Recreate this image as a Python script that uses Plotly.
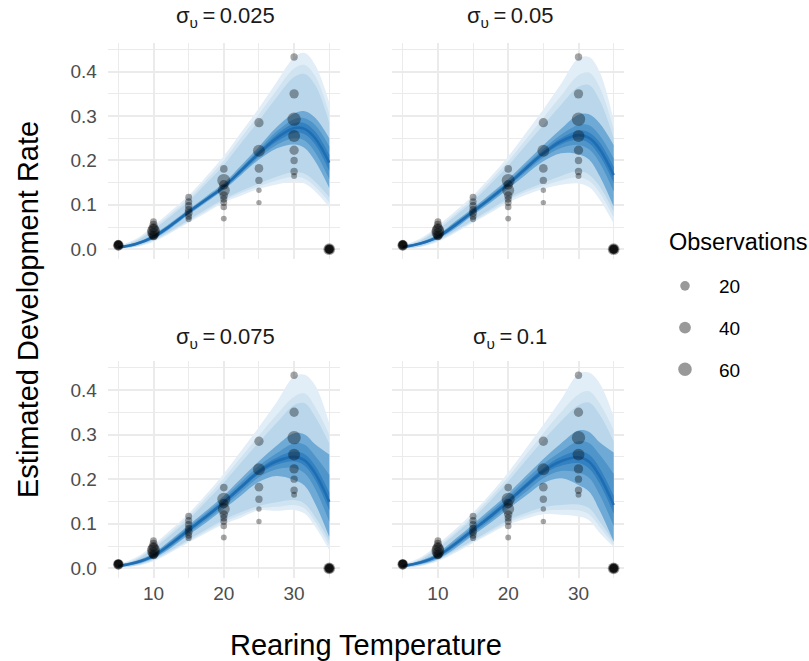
import math
import plotly.graph_objects as go

# ---------------- data ----------------
X_GRID = [5, 7.5, 10, 12.5, 15, 17.5, 20, 22.5, 25, 27.5, 30, 31.5, 33, 35]

PANEL_TITLES = ["σ<sub>υ</sub>\u2009=\u20090.025", "σ<sub>υ</sub>\u2009=\u20090.05",
                "σ<sub>υ</sub>\u2009=\u20090.075", "σ<sub>υ</sub>\u2009=\u20090.1"]

# panel 1 : sigma = 0.025
p1_med   = [0.004, 0.012, 0.028, 0.054, 0.084, 0.112, 0.141, 0.178, 0.216, 0.250, 0.273, 0.271, 0.250, 0.195]
p1_m3_lo = [0.0035, 0.011, 0.026, 0.052, 0.082, 0.110, 0.139, 0.175, 0.211, 0.242, 0.262, 0.259, 0.236, 0.177]
p1_m3_hi = [0.0045, 0.013, 0.030, 0.056, 0.086, 0.114, 0.143, 0.181, 0.221, 0.258, 0.284, 0.284, 0.265, 0.213]
p1_m2_lo = [0.003, 0.010, 0.025, 0.050, 0.080, 0.108, 0.137, 0.172, 0.207, 0.235, 0.250, 0.245, 0.218, 0.158]
p1_m2_hi = [0.005, 0.014, 0.031, 0.058, 0.088, 0.116, 0.145, 0.184, 0.225, 0.265, 0.293, 0.295, 0.280, 0.232]
p1_m1_lo = [0.0025, 0.009, 0.023, 0.048, 0.078, 0.106, 0.134, 0.168, 0.202, 0.227, 0.236, 0.228, 0.198, 0.138]
p1_m1_hi = [0.0055, 0.015, 0.033, 0.060, 0.090, 0.119, 0.149, 0.189, 0.231, 0.275, 0.306, 0.311, 0.296, 0.250]
p1_l3_lo = [0.002, 0.007, 0.021, 0.042, 0.066, 0.090, 0.113, 0.132, 0.148, 0.163, 0.174, 0.170, 0.152, 0.117]
p1_l3_hi = [0.006, 0.018, 0.044, 0.075, 0.108, 0.148, 0.190, 0.240, 0.290, 0.342, 0.388, 0.395, 0.370, 0.285]
p1_l2_lo = [0.0015, 0.006, 0.019, 0.040, 0.063, 0.086, 0.109, 0.127, 0.142, 0.155, 0.163, 0.159, 0.141, 0.106]
p1_l2_hi = [0.007, 0.020, 0.048, 0.080, 0.114, 0.156, 0.200, 0.252, 0.304, 0.358, 0.407, 0.415, 0.390, 0.305]
p1_l1_lo = [0.001, 0.005, 0.017, 0.037, 0.060, 0.082, 0.105, 0.121, 0.136, 0.146, 0.152, 0.148, 0.130, 0.095]
p1_l1_hi = [0.008, 0.023, 0.053, 0.086, 0.121, 0.164, 0.210, 0.264, 0.318, 0.376, 0.432, 0.442, 0.415, 0.330]

# panel 2 : sigma = 0.05
p2_med   = [0.005, 0.013, 0.028, 0.055, 0.085, 0.115, 0.147, 0.182, 0.216, 0.243, 0.257, 0.251, 0.226, 0.167]
p2_m3_lo = [0.0045, 0.012, 0.026, 0.052, 0.082, 0.112, 0.144, 0.178, 0.211, 0.236, 0.247, 0.239, 0.211, 0.150]
p2_m3_hi = [0.0055, 0.014, 0.030, 0.058, 0.088, 0.118, 0.150, 0.186, 0.221, 0.250, 0.267, 0.263, 0.241, 0.185]
p2_m2_lo = [0.004, 0.011, 0.025, 0.050, 0.080, 0.109, 0.141, 0.174, 0.206, 0.228, 0.235, 0.225, 0.195, 0.130]
p2_m2_hi = [0.006, 0.015, 0.031, 0.060, 0.090, 0.121, 0.153, 0.190, 0.226, 0.258, 0.280, 0.279, 0.257, 0.205]
p2_m1_lo = [0.003, 0.010, 0.023, 0.047, 0.077, 0.105, 0.136, 0.168, 0.198, 0.216, 0.214, 0.202, 0.165, 0.096]
p2_m1_hi = [0.007, 0.016, 0.033, 0.063, 0.093, 0.125, 0.158, 0.196, 0.234, 0.271, 0.303, 0.304, 0.284, 0.235]
p2_l3_lo = [0.002, 0.007, 0.021, 0.042, 0.066, 0.090, 0.114, 0.134, 0.150, 0.165, 0.176, 0.168, 0.142, 0.085]
p2_l3_hi = [0.007, 0.019, 0.044, 0.075, 0.108, 0.147, 0.188, 0.234, 0.280, 0.325, 0.366, 0.370, 0.336, 0.250]
p2_l2_lo = [0.0015, 0.006, 0.019, 0.040, 0.063, 0.086, 0.110, 0.129, 0.143, 0.155, 0.162, 0.154, 0.128, 0.072]
p2_l2_hi = [0.008, 0.021, 0.048, 0.080, 0.114, 0.155, 0.198, 0.247, 0.296, 0.345, 0.392, 0.398, 0.365, 0.270]
p2_l1_lo = [0.001, 0.005, 0.017, 0.037, 0.060, 0.082, 0.105, 0.122, 0.136, 0.145, 0.148, 0.140, 0.112, 0.058]
p2_l1_hi = [0.009, 0.024, 0.053, 0.086, 0.121, 0.163, 0.209, 0.262, 0.315, 0.372, 0.430, 0.433, 0.400, 0.290]

# panel 3 : sigma = 0.075
p3_med   = [0.005, 0.013, 0.028, 0.055, 0.086, 0.116, 0.148, 0.183, 0.217, 0.240, 0.250, 0.242, 0.213, 0.149]
p3_m3_lo = [0.0045, 0.012, 0.026, 0.052, 0.082, 0.112, 0.144, 0.178, 0.211, 0.232, 0.240, 0.230, 0.198, 0.130]
p3_m3_hi = [0.0055, 0.014, 0.030, 0.058, 0.090, 0.120, 0.152, 0.188, 0.223, 0.248, 0.262, 0.256, 0.230, 0.170]
p3_m2_lo = [0.004, 0.011, 0.024, 0.049, 0.079, 0.108, 0.139, 0.172, 0.204, 0.222, 0.225, 0.213, 0.178, 0.105]
p3_m2_hi = [0.006, 0.015, 0.032, 0.061, 0.093, 0.124, 0.157, 0.194, 0.230, 0.258, 0.280, 0.277, 0.252, 0.210]
p3_m1_lo = [0.003, 0.009, 0.022, 0.046, 0.075, 0.103, 0.133, 0.164, 0.194, 0.207, 0.198, 0.185, 0.145, 0.070]
p3_m1_hi = [0.007, 0.017, 0.034, 0.064, 0.097, 0.129, 0.163, 0.202, 0.240, 0.275, 0.303, 0.300, 0.278, 0.255]
p3_l3_lo = [0.002, 0.007, 0.020, 0.041, 0.064, 0.087, 0.109, 0.126, 0.140, 0.148, 0.153, 0.145, 0.115, 0.062]
p3_l3_hi = [0.007, 0.019, 0.044, 0.076, 0.110, 0.150, 0.192, 0.238, 0.283, 0.326, 0.366, 0.370, 0.340, 0.280]
p3_l2_lo = [0.0015, 0.006, 0.018, 0.039, 0.061, 0.083, 0.104, 0.120, 0.134, 0.138, 0.142, 0.134, 0.104, 0.052]
p3_l2_hi = [0.008, 0.021, 0.048, 0.081, 0.116, 0.158, 0.202, 0.250, 0.298, 0.344, 0.385, 0.392, 0.362, 0.300]
p3_l1_lo = [0.001, 0.005, 0.016, 0.036, 0.058, 0.079, 0.099, 0.114, 0.130, 0.129, 0.131, 0.123, 0.093, 0.041]
p3_l1_hi = [0.009, 0.024, 0.053, 0.087, 0.123, 0.166, 0.212, 0.264, 0.317, 0.372, 0.430, 0.434, 0.410, 0.325]

# panel 4 : sigma = 0.1
p4_med   = [0.005, 0.013, 0.028, 0.055, 0.086, 0.117, 0.150, 0.185, 0.218, 0.240, 0.249, 0.239, 0.207, 0.142]
p4_m3_lo = [0.0045, 0.012, 0.026, 0.052, 0.082, 0.112, 0.145, 0.179, 0.211, 0.230, 0.236, 0.224, 0.190, 0.123]
p4_m3_hi = [0.0055, 0.014, 0.030, 0.058, 0.090, 0.122, 0.155, 0.191, 0.225, 0.250, 0.263, 0.255, 0.225, 0.163]
p4_m2_lo = [0.004, 0.011, 0.024, 0.049, 0.078, 0.107, 0.139, 0.171, 0.202, 0.218, 0.215, 0.203, 0.165, 0.095]
p4_m2_hi = [0.006, 0.015, 0.032, 0.062, 0.094, 0.127, 0.161, 0.199, 0.234, 0.262, 0.285, 0.281, 0.255, 0.212]
p4_m1_lo = [0.003, 0.009, 0.021, 0.045, 0.074, 0.102, 0.133, 0.163, 0.191, 0.202, 0.187, 0.172, 0.130, 0.060]
p4_m1_hi = [0.007, 0.017, 0.035, 0.066, 0.099, 0.133, 0.168, 0.207, 0.245, 0.280, 0.309, 0.306, 0.283, 0.260]
p4_l3_lo = [0.002, 0.007, 0.020, 0.041, 0.063, 0.086, 0.108, 0.124, 0.137, 0.142, 0.143, 0.135, 0.105, 0.060]
p4_l3_hi = [0.007, 0.019, 0.045, 0.077, 0.112, 0.152, 0.195, 0.242, 0.288, 0.330, 0.366, 0.372, 0.345, 0.285]
p4_l2_lo = [0.0015, 0.006, 0.018, 0.038, 0.060, 0.082, 0.103, 0.118, 0.129, 0.131, 0.130, 0.121, 0.093, 0.053]
p4_l2_hi = [0.008, 0.021, 0.049, 0.082, 0.118, 0.160, 0.205, 0.254, 0.303, 0.350, 0.390, 0.397, 0.370, 0.310]
p4_l1_lo = [0.001, 0.005, 0.016, 0.035, 0.057, 0.078, 0.098, 0.111, 0.121, 0.120, 0.116, 0.108, 0.080, 0.048]
p4_l1_hi = [0.009, 0.024, 0.054, 0.088, 0.125, 0.168, 0.215, 0.268, 0.322, 0.378, 0.436, 0.439, 0.415, 0.340]

# observed development rates (same in every panel)
OBS_TEMP = ([5] * 6 + [10] * 8 + [15] * 7 + [20] * 9 + [25] * 6 + [30] * 8 + [35] * 6)
OBS_RATE = ([0.009, 0.010, 0.008, 0.011, 0.009, 0.010] +
            [0.062, 0.055, 0.048, 0.043, 0.039, 0.035, 0.031, 0.029] +
            [0.117, 0.107, 0.098, 0.089, 0.082, 0.074, 0.068] +
            [0.181, 0.155, 0.145, 0.133, 0.121, 0.113, 0.105, 0.095, 0.069] +
            [0.285, 0.222, 0.182, 0.155, 0.133, 0.105] +
            [0.433, 0.350, 0.293, 0.255, 0.223, 0.200, 0.175, 0.165] +
            [0.0, 0.0, 0.0, 0.0, 0.0, 0.0])
OBS_N = ([30, 15, 20, 10, 18, 12] +
         [5, 10, 20, 45, 55, 35, 20, 10] +
         [5, 6, 7, 8, 10, 5, 3] +
         [8, 54, 20, 42, 12, 6, 5, 4, 2] +
         [18, 42, 14, 7, 1, 1] +
         [7, 18, 58, 42, 18, 7, 7, 2] +
         [40, 15, 20, 10, 25, 12])

LEGEND_N = [20, 40, 60]

X_TICKS = [10, 20, 30]
Y_TICKS = [0.0, 0.1, 0.2, 0.3, 0.4]

# ---------------- styling ----------------
W, H = 809, 661
FONT = "Liberation Sans, Arial, sans-serif"
BAND_COLORS = ["#e1edf7", "#d0e3f1", "#b9d6eb", "#6eaad5", "#4f95c9", "#3381c0"]
LINE_COLOR = "#1f6eb3"
GRID = "#ebebeb"

X_DOMAINS = [[107.8 / W, 339.8 / W], [392.2 / W, 624.2 / W]]
Y_DOMAINS_TOP = [1 - 259.0 / H, 1 - 42.8 / H]
Y_DOMAINS_BOT = [1 - 578.1 / H, 1 - 361.0 / H]
X_RANGE = [3.5, 36.5]
Y_RANGE = [-0.022, 0.465]


def msize(n):
    return 4.2 + 1.2 * math.sqrt(n)


panels = [
    (p1_med, [(p1_l1_lo, p1_l1_hi), (p1_l2_lo, p1_l2_hi), (p1_l3_lo, p1_l3_hi),
              (p1_m1_lo, p1_m1_hi), (p1_m2_lo, p1_m2_hi), (p1_m3_lo, p1_m3_hi)]),
    (p2_med, [(p2_l1_lo, p2_l1_hi), (p2_l2_lo, p2_l2_hi), (p2_l3_lo, p2_l3_hi),
              (p2_m1_lo, p2_m1_hi), (p2_m2_lo, p2_m2_hi), (p2_m3_lo, p2_m3_hi)]),
    (p3_med, [(p3_l1_lo, p3_l1_hi), (p3_l2_lo, p3_l2_hi), (p3_l3_lo, p3_l3_hi),
              (p3_m1_lo, p3_m1_hi), (p3_m2_lo, p3_m2_hi), (p3_m3_lo, p3_m3_hi)]),
    (p4_med, [(p4_l1_lo, p4_l1_hi), (p4_l2_lo, p4_l2_hi), (p4_l3_lo, p4_l3_hi),
              (p4_m1_lo, p4_m1_hi), (p4_m2_lo, p4_m2_hi), (p4_m3_lo, p4_m3_hi)]),
]

fig = go.Figure()

for i, (med, bands) in enumerate(panels):
    xa = "x" if i == 0 else f"x{i + 1}"
    ya = "y" if i == 0 else f"y{i + 1}"
    for (lo, hi), col in zip(bands, BAND_COLORS):
        fig.add_trace(go.Scatter(x=X_GRID, y=lo, xaxis=xa, yaxis=ya, mode="lines",
                                 line=dict(width=0, shape="spline", color=col),
                                 showlegend=False, hoverinfo="skip"))
        fig.add_trace(go.Scatter(x=X_GRID, y=hi, xaxis=xa, yaxis=ya, mode="lines",
                                 line=dict(width=0, shape="spline", color=col),
                                 fill="tonexty", fillcolor=col,
                                 showlegend=False, hoverinfo="skip"))
    fig.add_trace(go.Scatter(x=X_GRID, y=med, xaxis=xa, yaxis=ya, mode="lines",
                             line=dict(width=2.6, shape="spline", color=LINE_COLOR),
                             showlegend=False, hoverinfo="skip"))
    fig.add_trace(go.Scatter(x=OBS_TEMP, y=OBS_RATE, xaxis=xa, yaxis=ya, mode="markers",
                             marker=dict(size=[msize(n) for n in OBS_N],
                                         color="rgba(0,0,0,0.5)", line=dict(width=0)),
                             showlegend=False))

for k, n in enumerate(LEGEND_N):
    fig.add_trace(go.Scatter(x=[None], y=[None], mode="markers", name=str(n),
                             legendgroup=f"g{k}",
                             marker=dict(size=msize(n), color="rgba(0,0,0,0.4)",
                                         line=dict(width=0))))

axis_common = dict(range=X_RANGE, showgrid=True, gridcolor=GRID, gridwidth=2,
                   zeroline=False, showline=False, ticks="",
                   tickvals=X_TICKS, ticktext=[str(v) for v in X_TICKS],
                   tickfont=dict(size=19, color="#4d4d4d", family=FONT),
                   minor=dict(tickvals=[5, 15, 25, 35], showgrid=True,
                              gridcolor=GRID, gridwidth=1))
yaxis_common = dict(range=Y_RANGE, showgrid=True, gridcolor=GRID, gridwidth=2,
                    zeroline=False, showline=False, ticks="",
                    tickvals=Y_TICKS, ticktext=[f"{v:.1f}" for v in Y_TICKS],
                    tickfont=dict(size=19, color="#4d4d4d", family=FONT),
                    minor=dict(tickvals=[0.05, 0.15, 0.25, 0.35, 0.45], showgrid=True,
                               gridcolor=GRID, gridwidth=1))

layout = dict(width=W, height=H, margin=dict(l=0, r=0, t=0, b=0),
              paper_bgcolor="white", plot_bgcolor="white",
              font=dict(family=FONT, color="#1a1a1a"))

for i in range(4):
    col = i % 2
    row = i // 2
    xk = "xaxis" if i == 0 else f"xaxis{i + 1}"
    yk = "yaxis" if i == 0 else f"yaxis{i + 1}"
    xa = dict(axis_common, domain=X_DOMAINS[col],
              anchor="y" if i == 0 else f"y{i + 1}",
              showticklabels=(row == 1), ticklabelstandoff=2)
    ya = dict(yaxis_common, domain=Y_DOMAINS_TOP if row == 0 else Y_DOMAINS_BOT,
              anchor="x" if i == 0 else f"x{i + 1}",
              showticklabels=(col == 0), ticklabelstandoff=10)
    layout[xk] = xa
    layout[yk] = ya

annotations = []
strip_y = [1 - 17 / H, 1 - 17 / H, 1 - 338 / H, 1 - 338 / H]
for i, t in enumerate(PANEL_TITLES):
    dom = X_DOMAINS[i % 2]
    annotations.append(dict(text=t, x=(dom[0] + dom[1]) / 2 + 2 / W, y=strip_y[i],
                            xref="paper", yref="paper", showarrow=False,
                            xanchor="center", yanchor="middle",
                            font=dict(size=22, color="#1a1a1a", family=FONT)))
annotations.append(dict(text="Rearing Temperature", x=366 / W, y=1 - 645 / H,
                        xref="paper", yref="paper", showarrow=False,
                        xanchor="center", yanchor="middle",
                        font=dict(size=29, color="black", family=FONT)))
annotations.append(dict(text="Estimated Development Rate", x=28 / W, y=1 - 310 / H,
                        xref="paper", yref="paper", showarrow=False, textangle=-90,
                        xanchor="center", yanchor="middle",
                        font=dict(size=29, color="black", family=FONT)))
annotations.append(dict(text="Observations", x=667 / W, y=1 - 242 / H,
                        xref="paper", yref="paper", showarrow=False,
                        xanchor="left", yanchor="middle",
                        font=dict(size=23.5, color="black", family=FONT)))
layout["annotations"] = annotations

layout["legend"] = dict(font=dict(size=19, color="black", family=FONT),
                        x=651 / W, xanchor="left", y=1 - 267 / H, yanchor="top",
                        itemsizing="trace", itemwidth=58, tracegroupgap=14,
                        bgcolor="rgba(0,0,0,0)")
layout["showlegend"] = True

fig.update_layout(**layout)
fig.write_html("out.html")
